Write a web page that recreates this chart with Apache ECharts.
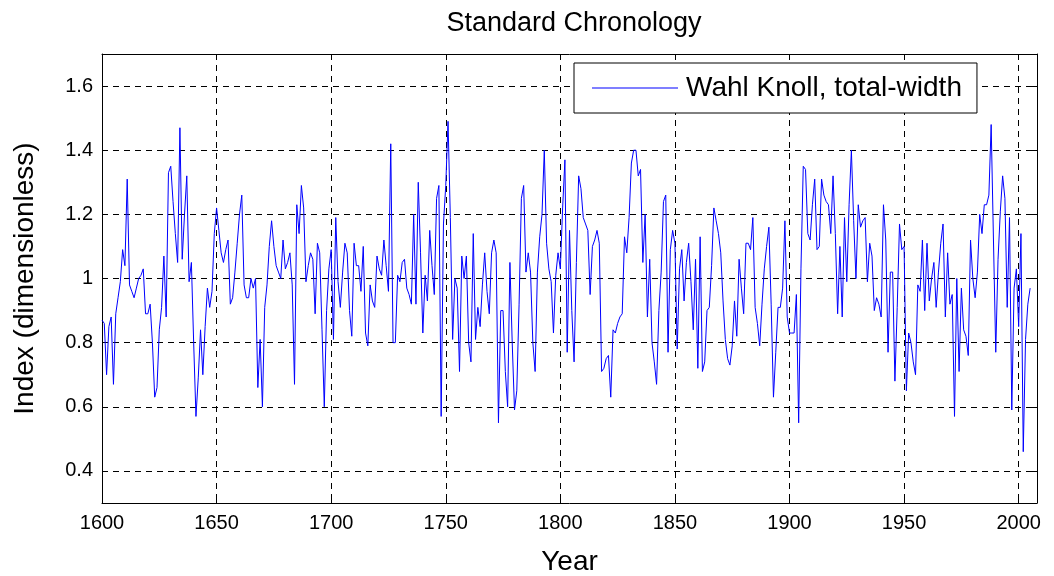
<!DOCTYPE html>
<html>
<head>
<meta charset="utf-8">
<style>html,body{margin:0;padding:0;background:#fff}#chart{width:1054px;height:576px}</style>
<script src="https://cdn.jsdelivr.net/npm/echarts@6/dist/echarts.min.js"></script>
</head>
<body>
<div id="chart"></div>
<script>
var startYear = 1600;
var indexValues = [
  0.87, 0.86, 0.70, 0.85, 0.88, 0.67, 0.89, 0.94, 0.99, 1.09, 1.04, 1.31, 0.98, 0.96, 0.94, 0.97, 1.00, 1.01, 1.03, 0.89,
  0.89, 0.92, 0.80, 0.63, 0.66, 0.84, 0.91, 1.07, 0.88, 1.33, 1.35, 1.24, 1.14, 1.05, 1.47, 1.06, 1.20, 1.32, 0.99, 1.05,
  0.80, 0.57, 0.69, 0.84, 0.70, 0.85, 0.97, 0.91, 0.96, 1.14, 1.22, 1.15, 1.08, 1.05, 1.09, 1.12, 0.92, 0.94, 1.02, 1.11,
  1.20, 1.26, 0.98, 0.94, 0.94, 1.00, 0.97, 1.00, 0.66, 0.81, 0.60, 0.91, 0.98, 1.10, 1.18, 1.10, 1.04, 1.02, 1.00, 1.12,
  1.03, 1.05, 1.08, 0.98, 0.67, 1.23, 1.14, 1.29, 1.22, 0.99, 1.04, 1.08, 1.06, 0.89, 1.11, 1.08, 0.84, 0.60, 0.90, 1.03,
  1.09, 0.81, 1.19, 0.99, 0.91, 1.02, 1.11, 1.08, 0.90, 0.82, 1.11, 1.04, 1.04, 0.96, 1.10, 0.83, 0.79, 0.98, 0.93, 0.91,
  1.07, 1.03, 1.01, 1.12, 1.04, 0.96, 1.42, 0.80, 0.80, 1.01, 0.99, 1.05, 1.06, 0.97, 0.95, 0.92, 1.20, 0.92, 1.30, 1.08,
  0.83, 1.01, 0.93, 1.15, 1.04, 0.95, 1.25, 1.29, 0.57, 1.17, 1.29, 1.49, 1.19, 0.81, 1.00, 0.97, 0.71, 1.07, 1.00, 1.07,
  0.80, 0.74, 1.14, 0.81, 0.91, 0.85, 0.98, 1.08, 0.96, 0.89, 1.08, 1.12, 1.08, 0.55, 0.90, 0.90, 0.71, 0.60, 1.05, 0.80,
  0.59, 0.65, 0.92, 1.25, 1.29, 1.02, 1.08, 1.02, 0.80, 0.71, 1.02, 1.13, 1.20, 1.40, 1.11, 1.03, 0.99, 0.83, 1.01, 1.08,
  1.03, 1.22, 1.37, 0.77, 1.15, 0.90, 0.74, 1.05, 1.32, 1.28, 1.19, 1.17, 1.15, 0.95, 1.10, 1.12, 1.15, 1.11, 0.71, 0.72,
  0.75, 0.76, 0.63, 0.84, 0.83, 0.86, 0.88, 0.89, 1.13, 1.08, 1.19, 1.36, 1.40, 1.40, 1.32, 1.34, 1.05, 1.20, 0.88, 1.06,
  0.80, 0.74, 0.67, 0.90, 1.02, 1.24, 1.26, 0.77, 1.09, 1.15, 1.11, 0.78, 1.03, 1.09, 0.93, 1.05, 1.11, 0.99, 0.84, 1.06,
  0.72, 1.13, 0.71, 0.74, 0.90, 0.91, 1.04, 1.22, 1.18, 1.14, 1.08, 0.93, 0.81, 0.75, 0.73, 0.79, 0.93, 0.82, 1.06, 0.97,
  0.89, 1.11, 1.11, 1.09, 1.19, 0.91, 0.86, 0.79, 0.92, 1.03, 1.10, 1.16, 0.92, 0.63, 0.77, 0.91, 0.91, 0.97, 1.18, 0.88,
  0.83, 0.83, 0.83, 0.95, 0.55, 1.03, 1.35, 1.34, 1.14, 1.12, 1.23, 1.31, 1.09, 1.10, 1.31, 1.26, 1.24, 1.23, 1.14, 1.32,
  1.14, 0.89, 1.10, 0.88, 1.19, 0.99, 1.23, 1.40, 1.18, 1.00, 1.23, 1.16, 1.18, 1.19, 0.99, 1.11, 1.07, 0.90, 0.94, 0.92,
  0.88, 1.23, 1.12, 0.77, 1.02, 1.02, 0.68, 0.91, 1.17, 1.09, 1.10, 0.65, 0.83, 0.80, 0.74, 0.70, 0.98, 0.96, 1.12, 0.90,
  1.11, 0.93, 1.00, 1.05, 0.91, 1.02, 1.11, 1.17, 0.88, 1.08, 0.92, 0.95, 0.57, 1.00, 0.71, 0.97, 0.84, 0.82, 0.76, 1.12,
  1.00, 0.94, 1.02, 1.20, 1.14, 1.23, 1.23, 1.26, 1.48, 1.12, 0.77, 1.06, 1.21, 1.32, 1.25, 0.91, 1.19, 0.59, 0.97, 1.03,
  0.85, 1.14, 0.46, 0.81, 0.92, 0.97
];
var yTicks = [0.4, 0.6, 0.8, 1.0, 1.2, 1.4, 1.6];
var xMin = 1600, xMax = 2008, xStep = 50;
var yMin = 0.3, yMax = 1.7;

var points = indexValues.map(function (v, i) { return [startYear + i, v]; });

var font = 'Liberation Sans, Arial, Helvetica, sans-serif';
var gridDash = { color: '#000', width: 1, type: [6, 5] };

var myChart = echarts.init(document.getElementById('chart'));
var option = {
    animation: false,
    backgroundColor: '#fff',
    title: {
        text: 'Standard Chronology',
        left: 569,
        top: 5,
        textAlign: 'center',
        textStyle: { color: '#000', fontSize: 27, fontWeight: 'normal', fontFamily: font }
    },
    legend: {
        data: ['Wahl Knoll, total-width'],
        left: 574,
        top: 63,
        padding: [10, 15, 10, 18],
        backgroundColor: '#fff',
        borderColor: '#000',
        borderWidth: 1,
        borderRadius: 0,
        icon: 'rect',
        itemWidth: 86,
        itemHeight: 1,
        textStyle: { color: '#000', fontSize: 28, fontFamily: font, padding: [0, 0, 0, 3], lineHeight: 30 }
    },
    grid: {
        left: 102,
        right: 17,
        top: 54,
        bottom: 73,
        outerBoundsMode: 'none',
        containLabel: false
    },
    xAxis: [{
        type: 'value',
        min: xMin,
        max: xMax,
        interval: xStep,
        position: 'bottom',
        name: 'Year',
        nameLocation: 'middle',
        nameGap: 45,
        nameTextStyle: { color: '#000', fontSize: 28, fontFamily: font },
        axisLine: { onZero: false, lineStyle: { color: '#000', width: 1 } },
        axisTick: { inside: true, length: 6, lineStyle: { color: '#000' } },
        axisLabel: {
            color: '#000', fontSize: 20, fontFamily: font, margin: 10,
            formatter: function (v) { return String(v); }
        },
        splitLine: { show: true, lineStyle: gridDash }
    }, {
        type: 'value',
        min: xMin,
        max: xMax,
        interval: xStep,
        position: 'top',
        axisLine: { onZero: false, lineStyle: { color: '#000', width: 1 } },
        axisTick: { inside: true, length: 6, lineStyle: { color: '#000' } },
        axisLabel: { show: false },
        splitLine: { show: false }
    }],
    yAxis: [{
        type: 'value',
        min: yMin,
        max: yMax,
        position: 'left',
        name: 'Index (dimensionless)',
        nameLocation: 'middle',
        nameGap: 63,
        nameRotate: 90,
        nameTextStyle: { color: '#000', fontSize: 28, fontFamily: font },
        axisLine: { onZero: false, lineStyle: { color: '#000', width: 1 } },
        axisTick: { inside: true, length: 6, customValues: yTicks, lineStyle: { color: '#000' } },
        axisLabel: {
            color: '#000', fontSize: 20, fontFamily: font, margin: 9,
            customValues: yTicks,
            formatter: function (v) { return String(Math.round(v * 10) / 10); }
        },
        splitLine: { show: true, lineStyle: gridDash }
    }, {
        type: 'value',
        min: yMin,
        max: yMax,
        position: 'right',
        axisLine: { onZero: false, lineStyle: { color: '#000', width: 1 } },
        axisTick: { inside: true, length: 6, customValues: yTicks, lineStyle: { color: '#000' } },
        axisLabel: { show: false, customValues: yTicks },
        splitLine: { show: false }
    }],
    series: [{
        name: 'Wahl Knoll, total-width',
        type: 'line',
        xAxisIndex: 0,
        yAxisIndex: 0,
        data: points,
        symbol: 'none',
        showSymbol: false,
        color: '#0000ff',
        lineStyle: { color: '#0000ff', width: 1 }
    }]
};
myChart.setOption(option);

window.addEventListener('resize', function () {
    myChart.resize();
});
</script>
</body>
</html>
